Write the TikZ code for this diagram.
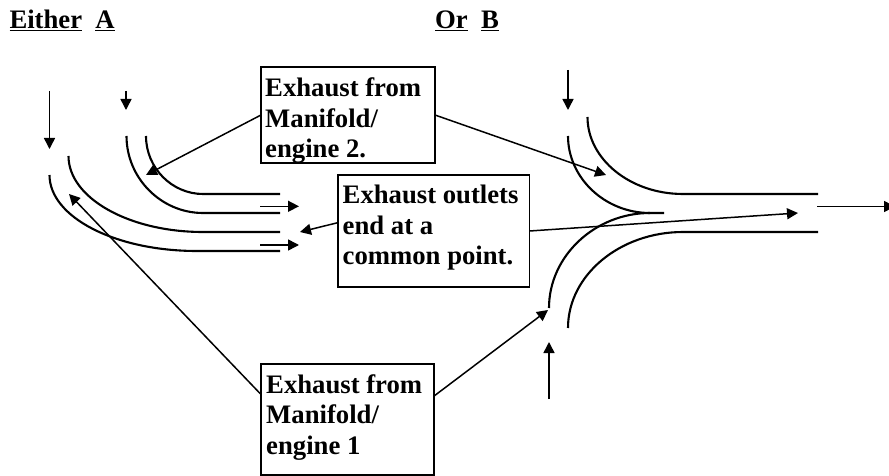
\documentclass[tikz,border=0pt]{standalone}
\usepackage{fontspec}
\setmainfont{Liberation Serif}
\usetikzlibrary{arrows.meta}
\tikzset{
  pipe/.style={line width=2.1pt,line cap=butt},
  lead/.style={line width=1.5pt,-{Triangle[length=11pt,width=11pt]}},
  flow/.style={line width=1.5pt,-{Triangle[length=11pt,width=11pt]}},
  labelbox/.style={draw,line width=2pt,anchor=north west,inner sep=0pt,outer sep=0pt,minimum height=96pt,minimum width=174pt},
  boxtext/.style={anchor=north west,align=left,font=\bfseries\fontsize{26.7}{30.6}\selectfont,inner sep=0pt},
  heading/.style={anchor=base west,inner sep=0pt,font=\bfseries\fontsize{26.7}{30}\selectfont}
}
\begin{document}
\begin{tikzpicture}[x=1pt,y=-1pt]
\useasboundingbox (0,0) rectangle (889,476);
% headings
\node[heading] (ha) at (9.3,28.7) {\underline{Either}\hspace{13.3pt}\underline{A}};
\node[heading] (hb) at (435,28.7) {\underline{Or}\hspace{13.3pt}\underline{B}};
% boxes
\node[labelbox] (top) at (261,67) {};
\node[boxtext] (toptext) at (265,77.5) {Exhaust from\\Manifold/\\engine 2.};
\node[labelbox,line width=1.3pt,minimum width=191.5pt,minimum height=112pt] (mid) at (338,175) {};
\node[boxtext] (midtext) at (342.5,184.7) {Exhaust outlets\\end at a\\common point.};
\node[labelbox,minimum height=110.5pt,minimum width=173pt] (bot) at (261,364) {};
\node[boxtext] (bottext) at (266,374) {Exhaust from\\Manifold/\\engine 1};
% left pipes
\draw[pipe] (146,136) .. controls (146,168) and (172,194) .. (203,194) -- (280,194);
\draw[pipe] (126.5,136) .. controls (126.5,178) and (161,213) .. (203,213) -- (280,213);
\draw[pipe] (68.5,156) .. controls (68.5,198) and (129,232) .. (203,232) -- (280,232);
\draw[pipe] (49.5,175) .. controls (49.5,217) and (115,251) .. (197,251) -- (280,251);
% right pipes
\draw[pipe] (587.5,117) .. controls (587.5,159) and (630,194) .. (683,194) -- (818,194);
\draw[pipe] (568,136) .. controls (568,178) and (605,213) .. (650,213) -- (664,213);
\draw[pipe] (549,308) .. controls (549,256) and (595,213) .. (650,213);
\draw[pipe] (568,328) .. controls (568,275) and (620,232) .. (683,232) -- (818,232);
% flow arrows
\coordinate (a1s) at (49.5,91); \coordinate (a1e) at (49.5,149);
\coordinate (a2s) at (126,91); \coordinate (a2e) at (126,110);
\coordinate (a3s) at (568,70); \coordinate (a3e) at (568,110);
\coordinate (a4s) at (549,399); \coordinate (a4e) at (549,342);
\coordinate (a5s) at (260,206.3); \coordinate (a5e) at (299,206.3);
\coordinate (a6s) at (260,245); \coordinate (a6e) at (299,245);
\coordinate (a7s) at (817,206.5); \coordinate (a7e) at (895,206.5);
\draw[flow] (a1s) -- (a1e);
\draw[flow] (a2s) -- (a2e);
\draw[flow] (a3s) -- (a3e);
\draw[flow] (a4s) -- (a4e);
\draw[flow] (a5s) -- (a5e);
\draw[flow] (a6s) -- (a6e);
\draw[flow] (a7s) -- (a7e);
% leaders
\coordinate (l1) at (146,175);
\coordinate (l2) at (606,175);
\coordinate (l3) at (300,232);
\coordinate (l4) at (798,213);
\coordinate (l5) at (69,194);
\coordinate (l6) at (548,310);
\draw[lead] (top.west) -- (l1);
\draw[lead] (top.east) -- (l2);
\draw[lead] (mid.175.8) -- (l3);
\draw[lead] (mid.east) -- (l4);
\draw[lead] (bot.164.5) -- (l5);
\draw[lead] (bot.15.5) -- (l6);
\end{tikzpicture}
\end{document}
